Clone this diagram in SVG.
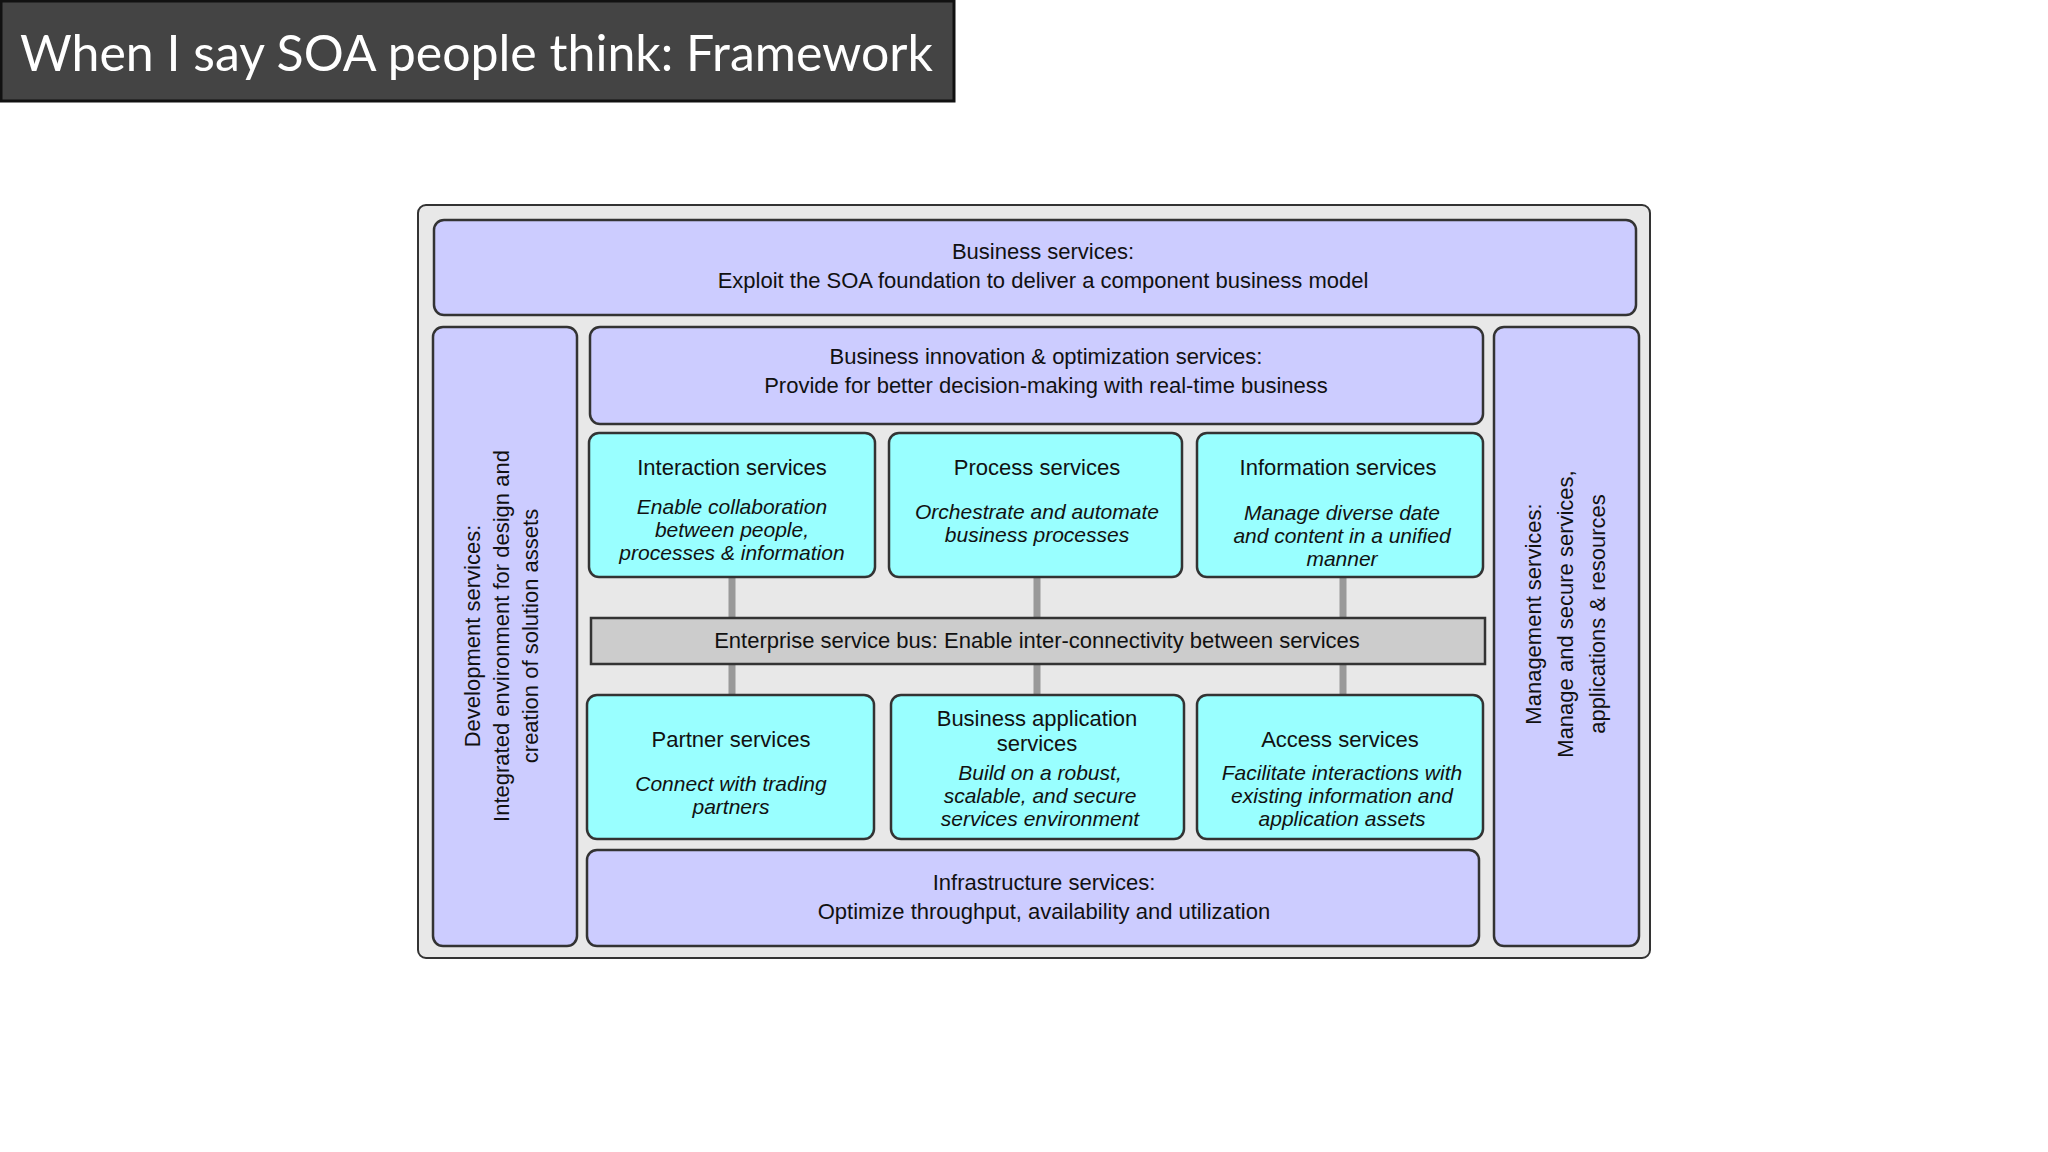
<svg xmlns="http://www.w3.org/2000/svg" width="2048" height="1152" viewBox="0 0 2048 1152">
<style>
.t{font-family:"Liberation Sans",Arial,sans-serif;font-size:22px;fill:#111;text-anchor:middle;dominant-baseline:central}
.i{font-style:italic;font-size:21px}
.lav{fill:#ccccff;stroke:#333;stroke-width:2.5}
.cy{fill:#99ffff;stroke:#333;stroke-width:2.5}
.c{stroke:#999;stroke-width:7}
</style>
<rect width="2048" height="1152" fill="#fff"/>
<g id="title"><rect x="1" y="1" width="953" height="100" fill="#444" stroke="#111" stroke-width="3"/>
<text x="20" y="52" font-family="Lato,'Open Sans',sans-serif" font-size="50" fill="#fff" dominant-baseline="central">When I say SOA people think: Framework</text></g>
<g id="frame"><rect x="418" y="205" width="1232" height="753" rx="8" fill="#e8e8e8" stroke="#333" stroke-width="2"/></g>
<g id="connectors">
<line class="c" x1="732" y1="577" x2="732" y2="695"/>
<line class="c" x1="1037" y1="577" x2="1037" y2="695"/>
<line class="c" x1="1343" y1="577" x2="1343" y2="695"/>
</g>
<g id="business"><rect class="lav" x="434" y="220" width="1202" height="95" rx="10"/>
<text class="t" x="1043" y="251">Business services:</text><text class="t" x="1043" y="280">Exploit the SOA foundation to deliver a component business model</text></g>
<g id="dev"><rect class="lav" x="433" y="327" width="144" height="619" rx="10"/>
<text class="t" transform="translate(472 636) rotate(-90)">Development services:</text>
<text class="t" transform="translate(501 636) rotate(-90)">Integrated environment for design and</text>
<text class="t" transform="translate(530 636) rotate(-90)">creation of solution assets</text></g>
<g id="mgmt"><rect class="lav" x="1494" y="327" width="145" height="619" rx="10"/>
<text class="t" transform="translate(1533 614) rotate(-90)">Management services:</text>
<text class="t" transform="translate(1565 614) rotate(-90)">Manage and secure services,</text>
<text class="t" transform="translate(1597 614) rotate(-90)">applications &amp; resources</text></g>
<g id="innovation"><rect class="lav" x="590" y="327" width="893" height="97" rx="10"/>
<text class="t" x="1046" y="356">Business innovation &amp; optimization services:</text><text class="t" x="1046" y="385">Provide for better decision-making with real-time business</text></g>
<g id="interaction"><rect class="cy" x="589" y="433" width="286" height="144" rx="10"/>
<text class="t" x="732" y="467">Interaction services</text>
<text class="t i" x="732" y="506">Enable collaboration</text><text class="t i" x="732" y="529">between people,</text><text class="t i" x="732" y="552">processes &amp; information</text></g>
<g id="process"><rect class="cy" x="889" y="433" width="293" height="144" rx="10"/>
<text class="t" x="1037" y="467">Process services</text>
<text class="t i" x="1037" y="511">Orchestrate and automate</text><text class="t i" x="1037" y="534">business processes</text></g>
<g id="information"><rect class="cy" x="1197" y="433" width="286" height="144" rx="10"/>
<text class="t" x="1338" y="467">Information services</text>
<text class="t i" x="1342" y="512">Manage diverse date</text><text class="t i" x="1342" y="535">and content in a unified</text><text class="t i" x="1342" y="558">manner</text></g>
<g id="esb"><rect x="591" y="618" width="894" height="46" fill="#cccccc" stroke="#333" stroke-width="2.5"/>
<text class="t" x="1037" y="640">Enterprise service bus: Enable inter-connectivity between services</text></g>
<g id="partner"><rect class="cy" x="587" y="695" width="287" height="144" rx="10"/>
<text class="t" x="731" y="739">Partner services</text>
<text class="t i" x="731" y="783">Connect with trading</text><text class="t i" x="731" y="806">partners</text></g>
<g id="bizapp"><rect class="cy" x="891" y="695" width="293" height="144" rx="10"/>
<text class="t" x="1037" y="718">Business application</text><text class="t" x="1037" y="743">services</text>
<text class="t i" x="1040" y="772">Build on a robust,</text><text class="t i" x="1040" y="795">scalable, and secure</text><text class="t i" x="1040" y="818">services environment</text></g>
<g id="access"><rect class="cy" x="1197" y="695" width="286" height="144" rx="10"/>
<text class="t" x="1340" y="739">Access services</text>
<text class="t i" x="1342" y="772">Facilitate interactions with</text><text class="t i" x="1342" y="795">existing information and</text><text class="t i" x="1342" y="818">application assets</text></g>
<g id="infra"><rect class="lav" x="587" y="850" width="892" height="96" rx="10"/>
<text class="t" x="1044" y="882">Infrastructure services:</text><text class="t" x="1044" y="911">Optimize throughput, availability and utilization</text></g>
</svg>
